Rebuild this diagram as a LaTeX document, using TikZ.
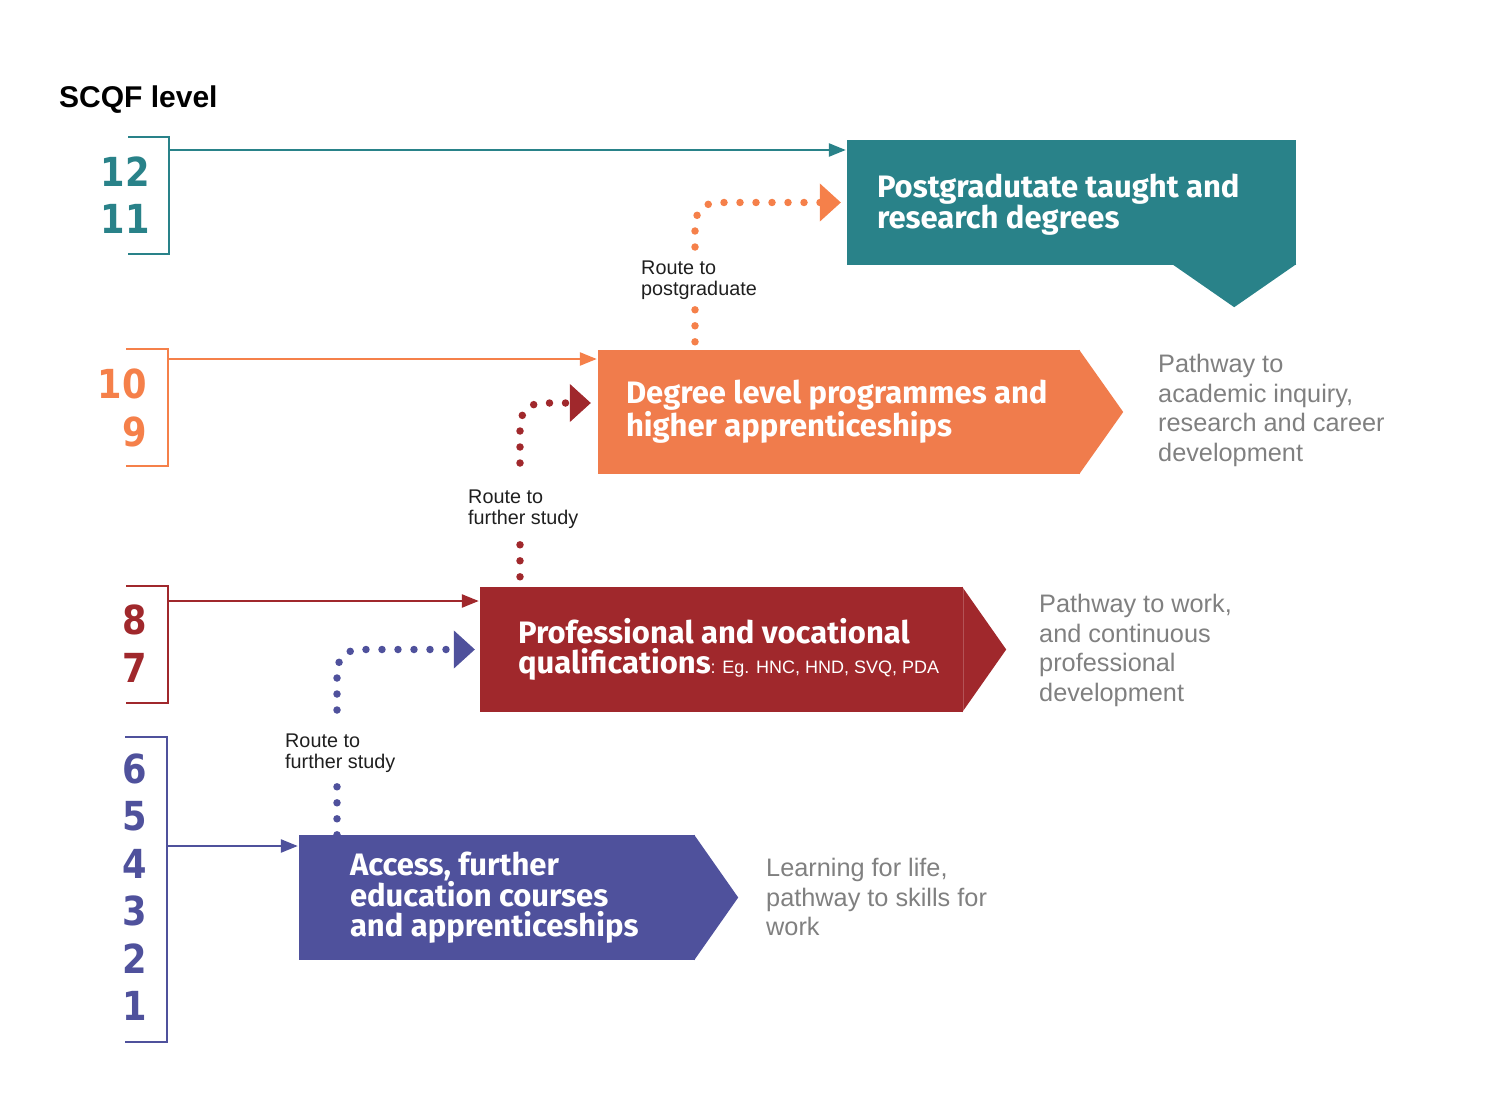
\documentclass[tikz,border=0pt]{standalone}
\usepackage{fontspec}
\setmainfont{Liberation Sans}
\newfontfamily\titlefont{Fira Sans}
\newfontfamily\levelfont[FakeStretch=0.88]{DejaVu Sans}
\usetikzlibrary{arrows.meta}

\definecolor{tealC}{RGB}{41,130,137}
\definecolor{orangeC}{RGB}{240,124,76}
\definecolor{orangeL}{RGB}{245,128,74}
\definecolor{redC}{RGB}{160,40,44}
\definecolor{blueC}{RGB}{79,81,156}
\definecolor{noteC}{RGB}{128,128,128}

\tikzset{
  box/.style={rectangle, inner sep=0pt, minimum height=125pt},
  title/.style={anchor=west, inner sep=0pt, align=left, text=white,
    font={\titlefont\bfseries\fontsize{31}{29.5}\selectfont}},
  level/.style={anchor=east, inner sep=0pt,
    font={\levelfont\bfseries\fontsize{40}{40}\selectfont}},
  note/.style={anchor=north west, inner sep=0pt, align=left, text=noteC,
    font={\fontsize{25.3}{29.5}\selectfont}},
  routelabel/.style={anchor=north west, inner sep=0pt, align=left, text=black!88,
    font={\fontsize{19.8}{21}\selectfont}},
  bracket/.style={line width=2.5pt, line join=miter},
  levelline/.style={line width=2.5pt, -{Triangle[length=17pt,width=13pt]}, shorten >=1pt},
  routedots/.style={line width=7.5pt, line cap=round, dash pattern=on 0pt off 16pt},
  route/.style={routedots, rounded corners=22pt,
    -{Triangle[length=21pt,width=38pt,line width=1pt]}}
}

\begin{document}
\begin{tikzpicture}[x=1pt, y=-1pt]
  \useasboundingbox (0,0) rectangle (1499,1118);

  \node[anchor=base west, inner sep=0pt, font={\bfseries\fontsize{30}{30}\selectfont}] (scqf) at (59,108) {SCQF level};

  % boxes
  \node[box, fill=tealC, minimum width=449pt] (pg) at (1071.5,202.5) {};
  \fill[tealC] ([xshift=-124pt,yshift=1pt]pg.south east) -- ([xshift=-62pt,yshift=-42pt]pg.south east) -- ([yshift=1pt]pg.south east) -- cycle;
  \node[title] (pgt) at ([xshift=30pt,yshift=-2pt]pg.west) {Postgradutate taught and\\research degrees};

  \node[box, fill=orangeC, minimum width=482pt, minimum height=124pt] (degree) at (839,412) {};
  \fill[orangeC] ([xshift=-1pt]degree.north east) -- ([xshift=43pt]degree.east) -- ([xshift=-1pt]degree.south east) -- cycle;
  \node[title] (degreet) at ([xshift=28pt]degree.west) {Degree level programmes and\\higher apprenticeships};

  \node[box, fill=redC, minimum width=483pt] (prof) at (721.5,649.5) {};
  \fill[redC] ([xshift=-1pt]prof.north east) -- ([xshift=43pt]prof.east) -- ([xshift=-1pt]prof.south east) -- cycle;
  \draw[white, opacity=0.2, line width=0.8pt] (prof.north east) -- (prof.south east);
  \node[title] (proft) at ([xshift=38pt]prof.west) {Professional and vocational\\qualifications{\normalfont\fontsize{18}{18}\selectfont: Eg. HNC, HND, SVQ, PDA}};

  \node[box, fill=blueC, minimum width=396pt] (acc) at (497,897.5) {};
  \fill[blueC] ([xshift=-1pt]acc.north east) -- ([xshift=43pt]acc.east) -- ([xshift=-1pt]acc.south east) -- cycle;
  \node[title] (acct) at ([xshift=51pt]acc.west) {Access, further\\education courses\\and apprenticeships};

  % notes
  \node[note] (npg) at (1158,354) {Pathway to\\academic inquiry,\\research and career\\development};
  \node[note] (nprof) at (1039,594) {Pathway to work,\\and continuous\\professional\\development};
  \node[note] (nacc) at (766,858) {Learning for life,\\pathway to skills for\\work};

  % levels
  \draw[bracket, tealC] (128,137) -- (169,137) -- (169,254) -- (128,254);
  \coordinate (tl) at (169,150);
  \draw[levelline, tealC] (tl) -- (tl -| pg.west);
  \node[level, tealC] (l12) at (150,172) {12};
  \node[level, tealC] (l11) at (150,218.5) {11};

  \draw[bracket, orangeL] (126,349) -- (168,349) -- (168,466) -- (126,466);
  \coordinate (ol) at (168,359);
  \draw[levelline, orangeL] (ol) -- (ol -| degree.west);
  \node[level, orangeL] (l10) at (147,384) {10};
  \node[level, orangeL] (l9) at (147,432) {9};

  \draw[bracket, redC] (126,586) -- (168,586) -- (168,703) -- (126,703);
  \coordinate (rl) at (168,601);
  \draw[levelline, redC] (rl) -- (rl -| prof.west);
  \node[level, redC] (l8) at (147,619.5) {8};
  \node[level, redC] (l7) at (147,667.5) {7};

  \draw[bracket, blueC] (125,737) -- (167,737) -- (167,1042) -- (125,1042);
  \coordinate (bl) at (167,846);
  \draw[levelline, blueC] (bl) -- (bl -| acc.west);
  \foreach \n [count=\i from 0] in {6,5,4,3,2,1}
    \node[level, blueC] (l\n) at (147,769+47.3*\i) {\n};

  % routes
  \node[routelabel] (rpg) at (641,261) {Route to\\postgraduate};
  \coordinate (cpg) at (695,280);
  \draw[routedots, orangeL, shorten <=8pt, shorten >=7pt] (cpg |- degree.north) -- (cpg |- rpg.south);
  \draw[route, orangeL, shorten <=14pt, shorten >=6pt] (cpg |- rpg.north) |- (pg.west);

  \node[routelabel] (rfs) at (468,490) {Route to\\further study};
  \coordinate (cfs) at (520,510);
  \draw[routedots, redC, shorten <=10pt, shorten >=13pt] (cfs |- prof.north) -- (cfs |- rfs.south);
  \draw[route, redC, shorten <=27pt, shorten >=7pt] (cfs |- rfs.north) |- ([yshift=9pt]degree.west);

  \node[routelabel] (rfa) at (285,734) {Route to\\further study};
  \coordinate (cfa) at (337,755);
  \draw[routedots, blueC, shorten >=11pt] (cfa |- acc.north) -- (cfa |- rfa.south);
  \draw[route, blueC, shorten <=24pt, shorten >=5pt] (cfa |- rfa.north) |- (prof.west);
\end{tikzpicture}
\end{document}
